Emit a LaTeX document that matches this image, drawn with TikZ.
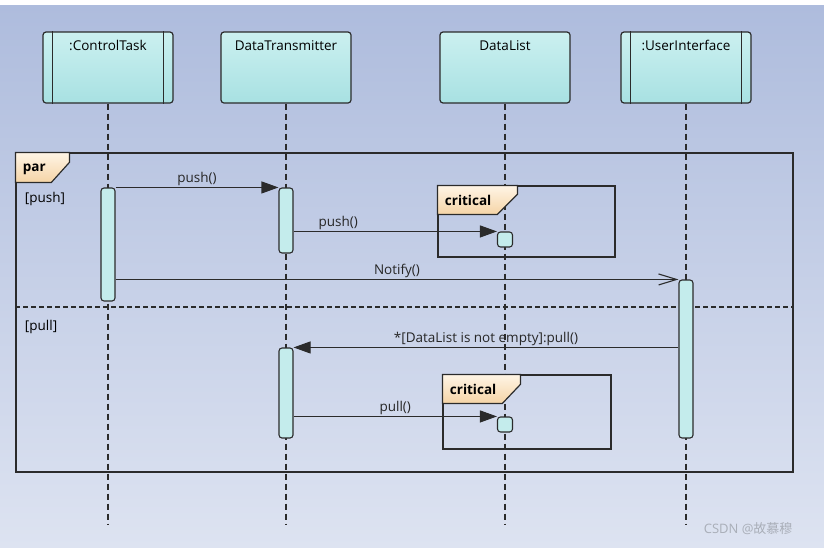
\documentclass[tikz,border=0pt]{standalone}
\usepackage{fontspec}
\setmainfont{Open Sans}
\newfontfamily\cjkfont{Noto Sans CJK SC}
\usepackage{tikz}
\usetikzlibrary{positioning,calc,arrows.meta}
\definecolor{bgtop}{HTML}{AEBCDD}
\definecolor{bgbot}{HTML}{DDE3F1}
\definecolor{headtop}{HTML}{CBF0F0}
\definecolor{headbot}{HTML}{A8E1E2}
\definecolor{barfill}{HTML}{C4ECEC}
\definecolor{tabtop}{HTML}{FFF5E6}
\definecolor{tabbot}{HTML}{F5D4A6}
\definecolor{linegray}{HTML}{2B2B2B}
\definecolor{markgray}{HTML}{A9AEB8}

\begin{document}
\begin{tikzpicture}[
  x=1pt, y=-1pt,
  font=\fontsize{13.5}{16}\selectfont,
  head/.style={rectangle, draw=linegray, line width=1.2pt, rounded corners=3pt,
    top color=headtop, bottom color=headbot, minimum width=130pt, minimum height=71pt},
  headtext/.style={anchor=north, yshift=-8pt, inner sep=1pt},
  actbar/.style={rectangle, draw=linegray, line width=1.1pt, rounded corners=3pt,
    fill=barfill, minimum width=14pt, inner sep=0pt},
  lifeline/.style={draw=linegray, line width=1.1pt, dash pattern=on 6pt off 4pt},
  frame/.style={draw=linegray, line width=1.2pt},
  tab/.style={draw=linegray, line width=1.2pt, top color=tabtop, bottom color=tabbot},
  tabtext/.style={anchor=west, font=\fontsize{13.5}{16}\selectfont\bfseries},
  msg/.style={draw=linegray, line width=1.1pt},
  sync/.style={msg, -{Triangle[length=17pt,width=12pt]}},
  async/.style={msg, -{Straight Barb[length=18pt,width=11pt,line width=1.1pt]}},
  lbl/.style={above, inner sep=1.5pt, text=black!85}
]
\useasboundingbox (0,0) rectangle (824,547);
\fill[white] (0,0) rectangle (824,547);
\fill[top color=bgtop, bottom color=bgbot] (0,5) rectangle (824,547);

\node[head] (ct) at (108,67.5) {};
\node[headtext] at (ct.north) {:ControlTask};
\draw[frame] ([xshift=10pt]ct.north west) -- ([xshift=10pt]ct.south west);
\draw[frame] ([xshift=-10pt]ct.north east) -- ([xshift=-10pt]ct.south east);
\node[head] (dt) at (286,67.5) {};
\node[headtext] at (dt.north) {DataTransmitter};
\node[head] (dl) at (505,67.5) {};
\node[headtext] at (dl.north) {DataList};
\node[head] (ui) at (686,67.5) {};
\node[headtext] at (ui.north) {:UserInterface};
\draw[frame] ([xshift=10pt]ui.north west) -- ([xshift=10pt]ui.south west);
\draw[frame] ([xshift=-10pt]ui.north east) -- ([xshift=-10pt]ui.south east);

\coordinate (bottom) at (0,525);
\foreach \obj in {ct,dt,dl,ui}
  \draw[lifeline] (\obj.south) -- (\obj.south |- bottom);

\node[frame, rectangle, minimum width=777pt, minimum height=319pt] (par) at (404.5,312.5) {};
\draw[tab] (par.north west) -- ++(54,0) -- ++(0,10) -- ++(-18,20) -- ($(par.north west)+(0,30)$) -- cycle;
\node[tabtext] at ($(par.north west)+(4,16.5)$) {par};
\node[anchor=west] at ($(par.north west)+(6,47)$) {[push]};
\draw[frame, dash pattern=on 5pt off 3pt] (par.west |- 0,307) -- (par.east |- 0,307);
\node[anchor=west] at ($(par.north west)+(6,175)$) {[pull]};

\node[frame, rectangle, minimum width=177pt, minimum height=71pt] (crit1) at (526.5,221.5) {};
\draw[tab] (crit1.north west) -- ++(80,0) -- ++(0,9) -- ++(-20,20) -- ($(crit1.north west)+(0,29)$) -- cycle;
\node[tabtext] at ($(crit1.north west)+(4,15.5)$) {critical};
\node[frame, rectangle, minimum width=168pt, minimum height=74pt] (crit2) at (527,412) {};
\draw[tab] (crit2.north west) -- ++(78,0) -- ++(0,10) -- ++(-18,19) -- ($(crit2.north west)+(0,29)$) -- cycle;
\node[tabtext] at ($(crit2.north west)+(4,15.5)$) {critical};

\node[actbar, minimum height=113pt] (ctbar) at (108,244.5) {};
\node[actbar, minimum height=65pt] (dtbar1) at (286,220.5) {};
\node[actbar, minimum height=158pt] (uibar) at (686,359) {};
\node[actbar, minimum height=90pt] (dtbar2) at (286,393) {};
\node[actbar, minimum width=15pt, minimum height=15pt] (dlbar1) at (505,239.5) {};
\node[actbar, minimum width=15pt, minimum height=15pt] (dlbar2) at (505,424.5) {};

\draw[sync] (ctbar.north east) -- node[lbl] {push()} (dtbar1.north west);
\draw[sync] (dtbar1.east |- dlbar1.north) -- node[lbl, pos=0.22] {push()} (dlbar1.north west);
\draw[async] (ctbar.east |- uibar.north) -- node[lbl] {Notify()} (uibar.north west);
\draw[sync] (uibar.west |- dtbar2.north) -- node[lbl] {*[DataList is not empty]:pull()} (dtbar2.north east);
\draw[sync] (dtbar2.east |- dlbar2.north) -- node[lbl] {pull()} (dlbar2.north west);

\node[anchor=east, text=markgray, font=\fontsize{13}{15}\selectfont] (mark) at (796,529) {CSDN @{\cjkfont 故慕穆}};
\end{tikzpicture}
\end{document}
